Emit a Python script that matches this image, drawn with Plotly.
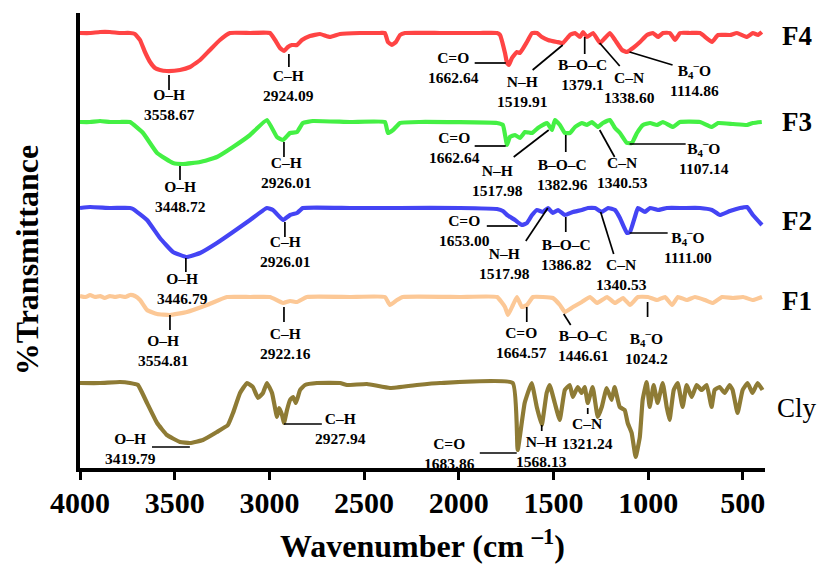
import plotly.graph_objects as go

FONT = "Liberation Serif"

# ---------------- data (wavenumber cm-1, stacked transmittance a.u.) ----------------
wn_f4 = [4000, 3947, 3894, 3842, 3789, 3736, 3710, 3683, 3657, 3630, 3604, 3578, 3541, 3472, 3419, 3366, 3314, 3261,
         3208, 3102, 2997, 2970, 2944, 2923, 2902, 2881, 2854, 2828, 2786, 2733, 2680, 2627, 2522, 2416, 2390, 2374,
         2353, 2332, 2310, 2284, 2099, 1994, 1888, 1798, 1782, 1756, 1745, 1735, 1719, 1693, 1677, 1640, 1613, 1587,
         1561, 1529, 1482, 1450, 1413, 1386, 1360, 1344, 1323, 1291, 1254, 1228, 1202, 1175, 1138, 1112, 1080, 1043,
         1006, 975, 948, 922, 885, 858, 832, 779, 726, 663, 631, 568, 531, 478, 447, 420, 400]
t_f4 = [435, 435, 436, 436, 435, 435, 434, 428, 416, 406, 400, 398, 397, 398, 401, 408, 418, 428,
        435, 435, 435, 428, 420, 417, 421, 423, 423, 428, 432, 434, 431, 434, 435, 435, 435, 426,
        423, 426, 433, 435, 435, 435, 435, 435, 433, 415, 405, 403, 410, 416, 415, 426, 435, 435,
        431, 428, 426, 425, 433, 435, 431, 436, 431, 435, 425, 430, 435, 428, 418, 416, 420, 426,
        433, 435, 431, 435, 435, 428, 435, 435, 435, 426, 433, 433, 435, 431, 435, 433, 436]

wn_f3 = [4000, 3947, 3894, 3842, 3789, 3736, 3667, 3593, 3509, 3456, 3366, 3277, 3192, 3102, 3013, 2960, 2928, 2891,
         2854, 2823, 2770, 2574, 2390, 2374, 2347, 2310, 2205, 1798, 1767, 1745, 1730, 1703, 1677, 1650, 1613, 1582,
         1534, 1508, 1492, 1466, 1440, 1413, 1386, 1350, 1323, 1297, 1265, 1239, 1202, 1175, 1149, 1112, 1086, 1059,
         1027, 990, 953, 922, 869, 832, 726, 663, 631, 552, 478, 447, 400]
t_f3 = [346, 346, 347, 346, 346, 346, 335, 315, 305, 304, 306, 311, 321, 333, 348, 331, 328, 335,
        336, 345, 347, 346, 346, 335, 338, 345, 346, 345, 343, 323, 331, 333, 330, 336, 335, 340,
        345, 338, 348, 343, 335, 335, 341, 345, 343, 346, 341, 345, 348, 340, 335, 325, 325, 335,
        343, 345, 343, 346, 341, 346, 346, 341, 345, 344, 343, 345, 346]

wn_f2 = [4000, 3947, 3842, 3736, 3720, 3646, 3578, 3509, 3435, 3366, 3277, 3192, 3102, 3013, 2981, 2928, 2891, 2854,
         2823, 2574, 2310, 1994, 1798, 1767, 1745, 1703, 1667, 1640, 1613, 1587, 1556, 1529, 1503, 1476, 1440, 1397,
         1350, 1318, 1281, 1244, 1212, 1175, 1149, 1112, 1096, 1070, 1054, 1017, 990, 948, 901, 816, 726, 663, 621,
         568, 515, 478, 447, 399]
t_f2 = [260, 261, 260, 260, 259, 248, 230, 216, 211, 215, 225, 236, 248, 260, 258, 248, 253, 255,
        260, 260, 260, 260, 259, 257, 253, 248, 243, 245, 253, 258, 256, 260, 255, 258, 253, 256,
        258, 260, 260, 256, 260, 258, 250, 235, 236, 251, 260, 256, 260, 258, 260, 260, 260, 258, 253,
        257, 260, 261, 253, 243]

wn_f1 = [4000, 3970, 3947, 3920, 3894, 3870, 3842, 3815, 3789, 3760, 3736, 3710, 3683, 3646, 3593, 3525, 3435, 3330,
         3224, 3102, 2997, 2928, 2891, 2854, 2802, 2574, 2390, 2363, 2326, 2295, 1994, 1798, 1756, 1740, 1714, 1693,
         1667, 1640, 1608, 1556, 1503, 1466, 1440, 1397, 1350, 1307, 1270, 1217, 1175, 1133, 1096, 1054, 1001, 953,
         911, 874, 843, 795, 753, 700, 658, 610, 552, 499, 447, 399]
t_f1 = [172, 171, 173, 171, 172, 170, 172, 171, 172, 171, 173, 172, 168, 158, 154, 153, 156, 163,
        171, 171, 171, 165, 167, 166, 171, 171, 171, 163, 168, 171, 171, 171, 161, 153, 163, 171,
        161, 163, 171, 171, 170, 163, 156, 161, 166, 171, 165, 171, 165, 170, 163, 171, 171, 168,
        171, 163, 171, 168, 171, 168, 165, 171, 170, 171, 168, 171]

wn_cly = [4000, 3894, 3789, 3736, 3694, 3646, 3593, 3541, 3472, 3419, 3351, 3277, 3219, 3192, 3155, 3118, 3087, 3060,
          3034, 3013, 2986, 2960, 2949, 2933, 2923, 2907, 2891, 2875, 2860, 2838, 2812, 2749, 2627, 2590, 2485, 2363,
          2221, 2099, 1715, 1689, 1652, 1615, 1588, 1562, 1536, 1520, 1493, 1467, 1440, 1414, 1398, 1372, 1351, 1335,
          1319, 1293, 1266, 1245, 1219, 1193, 1177, 1150, 1124, 1108, 1087, 1066, 1044, 1029, 1008, 992, 971, 950,
          923, 902, 887, 865, 844, 818, 797, 770, 744, 718, 691, 665, 649, 623, 596, 570, 554, 528, 501, 475,
          449, 422, 396]
t_cly = [85, 85, 86, 85, 83, 65, 45, 33, 26, 25, 28, 36, 43, 55, 75, 85, 81, 70,
         75, 85, 75, 51, 60, 53, 45, 58, 68, 71, 65, 78, 83, 85, 85, 83, 84, 80,
         83, 85, 85, 18, 65, 85, 61, 43, 75, 83, 65, 48, 78, 83, 71, 81, 75, 81,
         65, 81, 51, 61, 80, 68, 81, 61, 58, 45, 35, 11, 31, 68, 86, 61, 83, 65,
         85, 61, 48, 78, 85, 61, 83, 71, 83, 78, 83, 61, 78, 81, 75, 83, 78, 55, 78, 85,
         75, 85, 78]

series_names = ["F4", "F3", "F2", "F1", "Cly"]
x_ticks = [4000, 3500, 3000, 2500, 2000, 1500, 1000, 500]

B4O = "B<sub>4</sub><sup>–</sup>O"
bonds_f4 = ["O–H", "C–H", "C=O", "N–H", "B–O–C", "C–N", B4O]
peaks_f4 = ["3558.67", "2924.09", "1662.64", "1519.91", "1379.1", "1338.60", "1114.86"]
bonds_f3 = ["O–H", "C–H", "C=O", "N–H", "B–O–C", "C–N", B4O]
peaks_f3 = ["3448.72", "2926.01", "1662.64", "1517.98", "1382.96", "1340.53", "1107.14"]
bonds_f2 = ["O–H", "C–H", "C=O", "N–H", "B–O–C", "C–N", B4O]
peaks_f2 = ["3446.79", "2926.01", "1653.00", "1517.98", "1386.82", "1340.53", "1111.00"]
bonds_f1 = ["O–H", "C–H", "C=O", "B–O–C", B4O]
peaks_f1 = ["3554.81", "2922.16", "1664.57", "1446.61", "1024.2"]
bonds_cly = ["O–H", "C–H", "C=O", "N–H", "C–N"]
peaks_cly = ["3419.79", "2927.94", "1683.86", "1568.13", "1321.24"]

# ---------------- styling / placement ----------------
colors = ["#ff4444", "#44f044", "#4444f4", "#fcc896", "#8e7b35"]
name_y = [432, 346, 247, 167, 60]
name_weight = [700, 700, 700, 700, 400]

# label placement: (text x, text y, leader x0, y0, x1, y1) in data units
place_f4 = [(3525, 364, 3530, 393, 3530, 378), (2897, 383, 2897, 414, 2897, 401),
            (2026, 401, 1916, 405, 1752, 405), (1668, 377, 1451, 423, 1610, 398),
            (1348, 394, 1335, 431, 1335, 414), (1098, 381, 1256, 425, 1150, 402),
            (755, 389, 1098, 416, 871, 403)]
place_f3 = [(3467, 272, 3472, 302, 3472, 288), (2913, 296, 2923, 326, 2923, 311),
            (2021, 321, 1916, 322, 1752, 322), (1794, 288, 1525, 338, 1710, 311),
            (1451, 294, 1435, 333, 1435, 316), (1137, 296, 1256, 338, 1177, 311),
            (704, 311, 1098, 324, 802, 324)]
place_f2 = [(3459, 180, 3441, 210, 3441, 196), (2918, 217, 2918, 246, 2918, 231),
            (1968, 238, 1852, 242, 1689, 242), (1760, 205, 1530, 260, 1646, 227),
            (1433, 214, 1435, 251, 1435, 236), (1140, 194, 1251, 256, 1182, 214),
            (792, 222, 1098, 235, 897, 235)]
place_f1 = [(3562, 118, 3525, 153, 3525, 138), (2916, 125, 2923, 161, 2923, 146),
            (1668, 126, 1641, 161, 1641, 146), (1343, 123, 1446, 154, 1409, 143),
            (1011, 121, 1003, 166, 1003, 151)]
place_cly = [(3734, 20, 3620, 21, 3420, 21), (2625, 40, 2923, 44, 2723, 44),
             (2048, 15, 1889, 15, 1694, 15), (1565, 17, 1562, 43, 1562, 37),
             (1322, 35, 1319, 60, 1319, 54)]

fig = go.Figure()
all_series = [(wn_f4, t_f4), (wn_f3, t_f3), (wn_f2, t_f2), (wn_f1, t_f1), (wn_cly, t_cly)]
for (wn, t), c in zip(all_series, colors):
    fig.add_trace(go.Scatter(x=wn, y=t, mode="lines",
                             line=dict(color=c, width=4.2, shape="spline", smoothing=0.35),
                             showlegend=False, hoverinfo="skip"))

annotations = []
shapes = []
groups = [(bonds_f4, peaks_f4, place_f4), (bonds_f3, peaks_f3, place_f3), (bonds_f2, peaks_f2, place_f2),
          (bonds_f1, peaks_f1, place_f1), (bonds_cly, peaks_cly, place_cly)]
for bonds, peaks, places in groups:
    for b, p, (tx, ty, x0, y0, x1, y1) in zip(bonds, peaks, places):
        annotations.append(dict(x=tx, y=ty, xref="x", yref="y", text=f"{b}<br>{p}", showarrow=False,
                                xanchor="center", yanchor="middle",
                                font=dict(family=FONT, size=15.5, color="black", weight=700)))
        shapes.append(dict(type="line", xref="x", yref="y", x0=x0, y0=y0, x1=x1, y1=y1,
                           line=dict(color="black", width=1.7)))

for n, y, w in zip(series_names, name_y, name_weight):
    annotations.append(dict(x=1.0467, y=y, xref="paper", yref="y", text=n, showarrow=False,
                            xanchor="center", yanchor="middle",
                            font=dict(family=FONT, size=27, color="black", weight=w)))

annotations.append(dict(x=0.5, y=-0.168, xref="paper", yref="paper", text="Wavenumber (cm <sup>–1</sup>)",
                        showarrow=False, xanchor="center", yanchor="middle",
                        font=dict(family=FONT, size=32, color="black", weight=700)))
annotations.append(dict(x=-0.077, y=0.457, xref="paper", yref="paper", text="%Transmittance",
                        showarrow=False, xanchor="center", yanchor="middle", textangle=-90,
                        font=dict(family=FONT, size=32, color="black", weight=700)))

fig.update_layout(
    width=825, height=564,
    margin=dict(l=80, r=60, t=13, b=96),
    plot_bgcolor="white", paper_bgcolor="white",
    annotations=annotations, shapes=shapes,
    xaxis=dict(range=[4000, 383], tickvals=x_ticks, ticktext=[str(v) for v in x_ticks],
               ticks="outside", ticklen=8, tickwidth=3, tickcolor="black", ticklabelstandoff=-3,
               showline=True, linewidth=4, linecolor="black", showgrid=False, zeroline=False,
               tickfont=dict(family=FONT, size=30, color="black", weight=700)),
    yaxis=dict(range=[0, 455], showticklabels=False, ticks="", showline=True, linewidth=4,
               linecolor="black", showgrid=False, zeroline=False),
)

fig.write_html("out.html", config={"displayModeBar": False},
               post_script="document.body.style.margin='0px';")
